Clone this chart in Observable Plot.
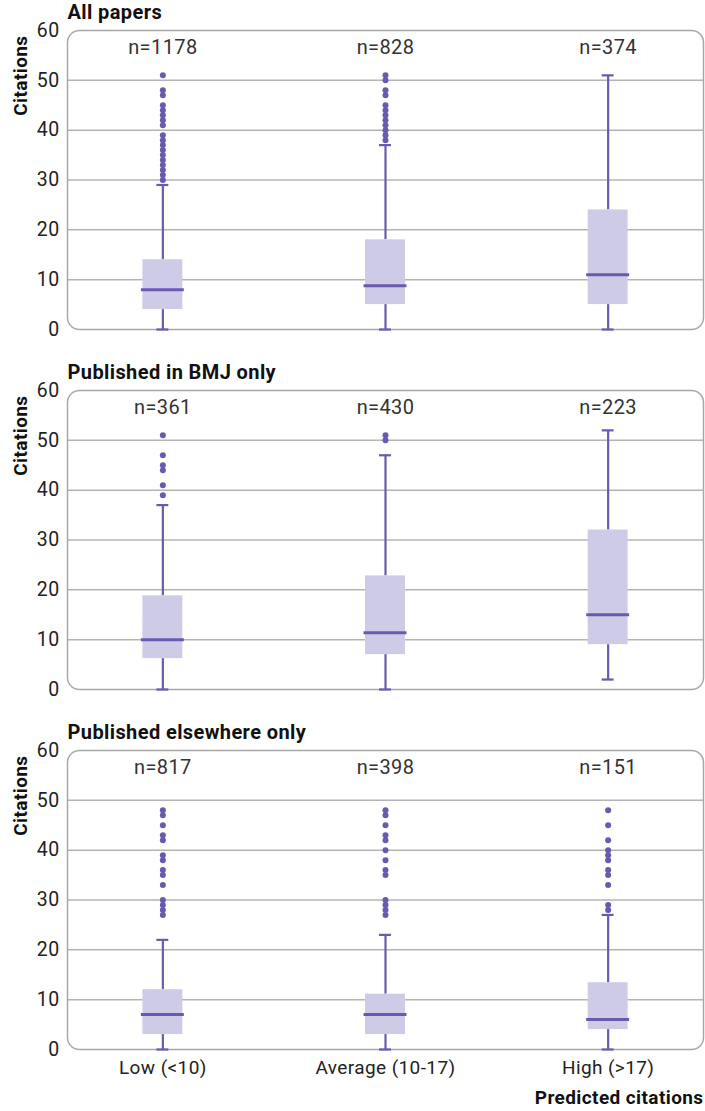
<!DOCTYPE html>
<html>
<head>
<meta charset="utf-8">
<script src="https://cdn.jsdelivr.net/npm/d3@7"></script>
<script src="https://cdn.jsdelivr.net/npm/@observablehq/plot@0.6"></script>
<style>
  html, body { margin: 0; padding: 0; background: #fff; }
  #chart svg text { letter-spacing: 0.4px; }
</style>
</head>
<body>
<div id="chart"></div>
<script>
const panels = ["All papers", "Published in BMJ only", "Published elsewhere only"];
const groups = ["Low (<10)", "Average (10-17)", "High (>17)"];
const yTicks = [0, 10, 20, 30, 40, 50, 60];
const gridTicks = [10, 20, 30, 40, 50];

const counts = [[1178, 828, 374], [361, 430, 223], [817, 398, 151]];
const whiskerLow = [[0, 0, 0], [0, 0, 2], [0, 0, 0]];
const q1 = [[4, 5, 5], [6.2, 7, 9], [3, 3, 4]];
const median = [[8, 8.8, 11], [10, 11.4, 15], [7, 7, 6]];
const q3 = [[14, 18, 24], [18.8, 22.8, 32], [12, 11.1, 13.4]];
const whiskerHigh = [[29, 37, 51], [37, 47, 52], [22, 23, 27]];
const outliers = [
  [
    [51, 48, 47, 45, 44, 43, 42, 41, 39, 38, 37, 36, 35, 34, 33, 32, 31, 30],
    [51, 50, 48, 47, 45, 44, 43, 42, 41, 40, 39, 38],
    []
  ],
  [
    [51, 47, 45, 44, 41, 39],
    [51, 50],
    []
  ],
  [
    [48, 47, 45, 43, 42, 39, 38, 36, 35, 33, 30, 29, 28, 27],
    [48, 47, 45, 43, 42, 40, 38, 36, 35, 30, 29, 28, 27],
    [48, 45, 42, 40, 39, 38, 36, 35, 33, 29, 28]
  ]
];

const rows = panels.flatMap((p, i) => groups.map((g, j) => ({
  panel: p, group: g, n: counts[i][j],
  lo: whiskerLow[i][j], q1: q1[i][j], med: median[i][j], q3: q3[i][j], hi: whiskerHigh[i][j]
})));
const dots = panels.flatMap((p, i) => groups.flatMap((g, j) => outliers[i][j].map(v => ({panel: p, group: g, value: v}))));
const titles = panels.map(p => ({panel: p, title: p}));

const purple = "#6a5aaf";
const lavender = "#cecbe7";
const font = "Roboto, 'Open Sans', sans-serif";

const chart = Plot.plot({
  width: 705,
  height: 1111,
  marginLeft: 67,
  marginRight: 2,
  marginTop: 30,
  marginBottom: 62,
  style: {fontFamily: font, fontSize: "19px", color: "#222", background: "#fff"},
  x: {type: "band", domain: groups, paddingInner: 0.8206, paddingOuter: 0.3386, round: false, label: null},
  y: {domain: [0, 60], label: null},
  fy: {domain: panels, paddingInner: 0.1694, paddingOuter: 0, round: false, axis: null, label: null},
  marks: [
    Plot.gridY(gridTicks, {stroke: "#b4b4b4", strokeOpacity: 1, strokeWidth: 1.5}),
    Plot.frame({stroke: "#a8a8a8", strokeWidth: 1.5, rx: 12}),
    Plot.axisY({ticks: yTicks, tickSize: 0, tickPadding: 8, fontSize: 19.5, label: null}),
    Plot.axisX({tickSize: 0, tickPadding: 11, fontSize: 19, label: null}),
    Plot.ruleX(rows, {x: "group", fy: "panel", y1: "q3", y2: "hi", stroke: purple, strokeWidth: 2.2}),
    Plot.ruleX(rows, {x: "group", fy: "panel", y1: "lo", y2: "q1", stroke: purple, strokeWidth: 2.2}),
    Plot.tickY(rows, {x: "group", fy: "panel", y: "hi", stroke: purple, strokeWidth: 2.2, insetLeft: 14, insetRight: 14}),
    Plot.tickY(rows, {x: "group", fy: "panel", y: "lo", stroke: purple, strokeWidth: 2.2, insetLeft: 14, insetRight: 14}),
    Plot.barY(rows, {x: "group", fy: "panel", y1: "q1", y2: "q3", fill: lavender}),
    Plot.tickY(rows, {x: "group", fy: "panel", y: "med", stroke: purple, strokeWidth: 3, insetLeft: -1.5, insetRight: -1.5}),
    Plot.dot(dots, {x: "group", fy: "panel", y: "value", r: 3, fill: purple, stroke: null}),
    Plot.text(rows, {x: "group", fy: "panel", text: d => `n=${d.n}`, frameAnchor: "top", lineAnchor: "middle", dy: 17, fontSize: 20, fill: "#333"}),
    Plot.text(titles, {fy: "panel", text: "title", frameAnchor: "top-left", lineAnchor: "middle", textAnchor: "start", dy: -18, fontSize: 20, fontWeight: "bold", fill: "#111"}),
    Plot.text(titles, {fy: "panel", text: () => "Citations", frameAnchor: "top-left", textAnchor: "end", rotate: -90, dx: -54, dy: 5, fontSize: 19, fontWeight: "bold", fill: "#111"}),
    Plot.text([{panel: panels[2]}], {fy: "panel", text: () => "Predicted citations", frameAnchor: "bottom-right", lineAnchor: "middle", textAnchor: "end", dy: 48, fontSize: 19, fontWeight: "bold", fill: "#111"})
  ]
});
document.getElementById("chart").appendChild(chart);
</script>
</body>
</html>
